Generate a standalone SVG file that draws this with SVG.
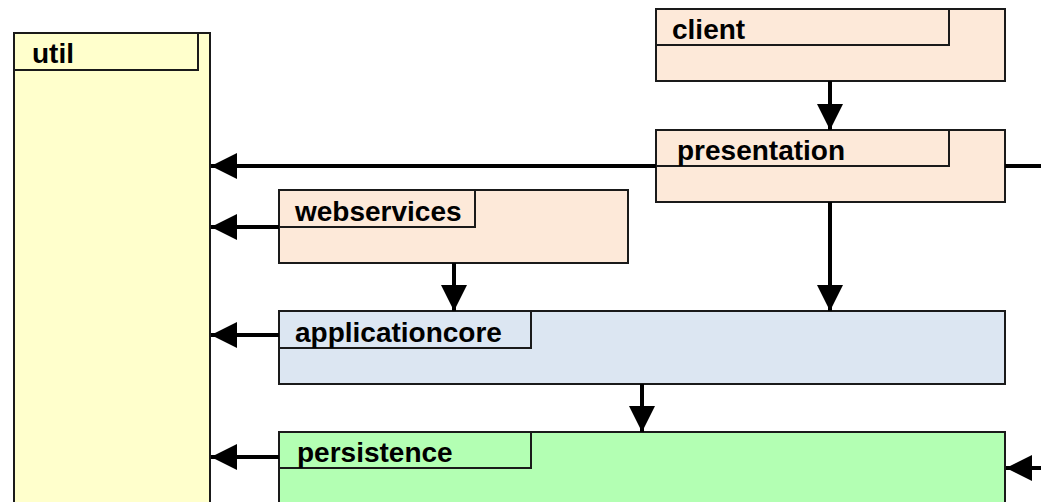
<svg xmlns="http://www.w3.org/2000/svg" width="1041" height="502" viewBox="0 0 1041 502">
<style>
.box{stroke:#1a1a1a;stroke-width:2}
.tab{fill:none;stroke:#1a1a1a;stroke-width:2}
.lbl{font-family:"Liberation Sans",Arial,sans-serif;font-weight:bold;font-size:28px;fill:#000}
.peach{fill:#FDE9D9}
.blue{fill:#DCE6F2}
.green{fill:#B3FFB3}
.yellow{fill:#FFFFCC}
.edge{stroke:#000;stroke-width:4;fill:none}
.arr{marker-end:url(#ah)}
</style>
<defs>
<marker id="ah" markerUnits="userSpaceOnUse" markerWidth="26" markerHeight="26" refX="26" refY="13" orient="auto" viewBox="0 0 26 26">
<path d="M0,0 L26,13 L0,26 z" fill="#000"/>
</marker>
</defs>
<rect width="1041" height="502" fill="#fff"/>
<g id="util">
<rect class="box yellow" x="14" y="33" width="196" height="480"/>
<rect class="tab" x="14" y="33" width="184" height="37"/>
<text class="lbl" x="32" y="63">util</text>
</g>
<g id="client">
<rect class="box peach" x="656" y="9" width="349" height="72"/>
<rect class="tab" x="656" y="9" width="293" height="36"/>
<text class="lbl" x="672" y="39">client</text>
</g>
<g id="presentation">
<rect class="box peach" x="656" y="130" width="349" height="72"/>
<rect class="tab" x="656" y="130" width="293" height="36"/>
<text class="lbl" x="677" y="160">presentation</text>
</g>
<g id="webservices">
<rect class="box peach" x="279" y="190" width="349" height="73"/>
<rect class="tab" x="279" y="190" width="196" height="37"/>
<text class="lbl" x="295" y="221">webservices</text>
</g>
<g id="applicationcore">
<rect class="box blue" x="279" y="311" width="726" height="73"/>
<rect class="tab" x="279" y="311" width="252" height="37"/>
<text class="lbl" x="295" y="342">applicationcore</text>
</g>
<g id="persistence">
<rect class="box green" x="279" y="432" width="726" height="90"/>
<rect class="tab" x="279" y="432" width="252" height="36"/>
<text class="lbl" x="297" y="462">persistence</text>
</g>
<g id="connectors">
<path class="edge arr" d="M830,81 V130"/>
<path class="edge arr" d="M656,166 H211"/>
<path class="edge" d="M1005,166 H1041"/>
<path class="edge arr" d="M279,227 H211"/>
<path class="edge arr" d="M454,263 V311"/>
<path class="edge arr" d="M830,202 V311"/>
<path class="edge arr" d="M279,335 H211"/>
<path class="edge arr" d="M642,384 V432"/>
<path class="edge arr" d="M279,457 H211"/>
<path class="edge arr" d="M1041,468 H1006"/>
</g>
</svg>
